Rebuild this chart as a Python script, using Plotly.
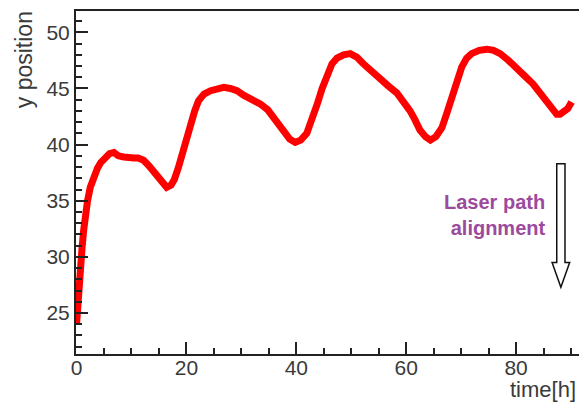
import plotly.graph_objects as go

# time [h] and y position
time_h = [0, 0.2, 0.4, 0.7, 1.0, 1.3, 1.6, 2.0, 2.5, 3.1, 3.8, 4.4, 5.2, 6.0, 6.8, 7.6, 8.6, 9.6,
          10.5, 11.2, 12.2, 13.2, 14.1, 15.2, 16.4, 17.2, 17.8, 18.5, 19.2, 20.0, 20.7, 21.5, 22.2,
          23.2, 24.4, 25.6, 26.8, 28.0, 29.2, 30.4, 32.0, 33.5, 34.8, 35.9, 36.8, 37.7, 38.8, 39.8,
          40.8, 41.9, 42.9, 43.8, 44.7, 45.6, 46.5, 47.4, 48.6, 49.8, 51.0, 52.2, 53.8, 55.3, 56.8,
          58.3, 59.6, 60.7, 61.6, 62.5, 63.5, 64.4, 65.4, 66.5, 67.4, 68.3, 69.2, 70.1, 71.0, 71.9,
          73.3, 74.7, 75.9, 77.1, 78.6, 80.1, 81.6, 83.1, 84.4, 85.6, 86.5, 87.4, 88.0, 88.6, 89.4, 90.1]
y_pos = [24.0, 26.0, 27.9, 29.4, 30.8, 32.4, 33.8, 35.0, 36.2, 37.1, 37.9, 38.4, 38.9, 39.2, 39.3,
         39.0, 38.9, 38.8, 38.8, 38.8, 38.6, 38.1, 37.5, 36.8, 36.2, 36.4, 36.9, 37.9, 39.2, 40.6,
         41.8, 43.0, 43.9, 44.5, 44.8, 45.0, 45.1, 45.0, 44.8, 44.4, 44.0, 43.6, 43.1, 42.4, 41.7,
         41.0, 40.5, 40.2, 40.4, 41.0, 42.2, 43.6, 45.0, 46.3, 47.2, 47.7, 48.0, 48.1, 47.8, 47.2,
         46.5, 45.7, 45.2, 44.6, 43.8, 43.0, 42.2, 41.3, 40.7, 40.4, 40.7, 41.5, 42.8, 44.2, 45.6,
         46.9, 47.7, 48.1, 48.4, 48.5, 48.4, 48.1, 47.5, 46.9, 46.1, 45.4, 44.6, 43.9, 43.2, 42.7,
         42.7, 42.9, 43.2, 43.8]

x_ticks = [0, 20, 40, 60, 80]
y_ticks = [25, 30, 35, 40, 45, 50]
annotation_text = "Laser path<br>alignment"

TXT = "#3a3a3a"
FONT = "Liberation Sans, Arial, sans-serif"

fig = go.Figure()
fig.add_trace(go.Scatter(x=time_h, y=y_pos, mode="lines",
                         line=dict(color="#ff0000", width=7), showlegend=False))

# hollow down arrow
ax_c, sw, hw = 88.15, 0.75, 1.6
y_top, y_neck, y_tip = 38.3, 29.5, 27.3
path = (f"M {ax_c-sw},{y_top} L {ax_c+sw},{y_top} L {ax_c+sw},{y_neck} L {ax_c+hw},{y_neck} "
        f"L {ax_c},{y_tip} L {ax_c-hw},{y_neck} L {ax_c-sw},{y_neck} Z")
fig.add_shape(type="path", path=path, xref="x", yref="y",
              line=dict(color="#111111", width=1.5), fillcolor="white")

fig.add_annotation(x=0.936, y=0.405, xref="paper", yref="paper", text=annotation_text,
                   showarrow=False, align="right", xanchor="right", yanchor="middle",
                   font=dict(family=FONT, size=20, color="#9b4a9e", weight="bold"))

fig.update_layout(
    width=579, height=404,
    margin=dict(l=76, r=0, t=11, b=50),
    plot_bgcolor="white", paper_bgcolor="white",
    font=dict(family=FONT, size=21, color=TXT),
    xaxis=dict(range=[-0.1, 91.45], tickvals=x_ticks, ticks="inside", ticklen=12, tickwidth=1.5,
               tickcolor="#222", showline=True, linecolor="#222", linewidth=2, mirror=True,
               showgrid=False, zeroline=False, ticklabelstandoff=-6,
               minor=dict(ticks="inside", dtick=5, ticklen=6, tickwidth=1.5, tickcolor="#222",
                          showgrid=False)),
    yaxis=dict(range=[21.35, 51.9], tickvals=y_ticks, ticks="inside", ticklen=12, tickwidth=1.5,
               tickcolor="#222", showline=True, linecolor="#222", linewidth=2,
               showgrid=False, zeroline=False,
               minor=dict(ticks="inside", dtick=1, ticklen=6, tickwidth=1.5, tickcolor="#222",
                          showgrid=False)),
)

fig.add_annotation(x=0.859, y=-0.103, xref="paper", yref="paper", text="time[h]", showarrow=False,
                   xanchor="left", yanchor="middle",
                   font=dict(family=FONT, size=22, color=TXT))
fig.add_annotation(x=-0.103, y=0.857, xref="paper", yref="paper", text="y position", showarrow=False,
                   textangle=-90, xanchor="center", yanchor="middle",
                   font=dict(family=FONT, size=23, color=TXT))

fig.write_html("out.html")
